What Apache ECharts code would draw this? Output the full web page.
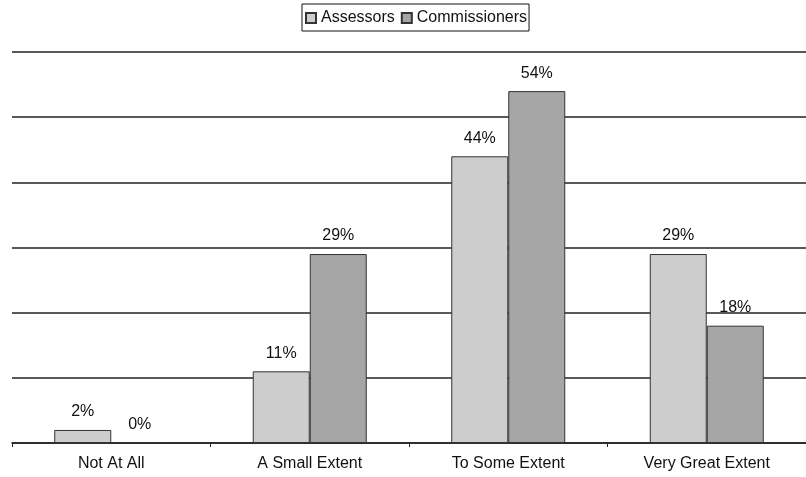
<!DOCTYPE html>
<html>
<head>
<meta charset="utf-8">
<script src="https://cdn.jsdelivr.net/npm/echarts@6/dist/echarts.min.js"></script>
<style>
html,body{margin:0;padding:0;background:#fff;}
#chart{width:806px;height:477px;}
</style>
</head>
<body>
<div id="chart"></div>
<script>
var categories = ["Not At All", "A Small Extent", "To Some Extent", "Very Great Extent"];
var assessors = [2, 11, 44, 29];
var commissioners = [0, 29, 54, 18];
var seriesNames = ["Assessors", "Commissioners"];

var chart = echarts.init(document.getElementById('chart'), null, {renderer: 'canvas'});
var labelStyle = {
  show: true,
  position: 'top',
  distance: 10,
  formatter: '{c}%',
  fontFamily: 'Liberation Sans, Arial, sans-serif',
  fontSize: 16,
  color: '#111'
};
chart.setOption({
  backgroundColor: '#ffffff',
  animation: false,
  legend: {
    top: 4,
    left: 302,
    data: seriesNames,
    icon: 'rect',
    itemWidth: 10,
    itemHeight: 10,
    itemGap: 6,
    padding: [6, 2, 5, 3],
    borderColor: '#111',
    borderWidth: 1,
    textStyle: {fontFamily: 'Liberation Sans, Arial, sans-serif', fontSize: 16, color: '#111'}
  },
  grid: {left: 12, right: -2, top: 52, bottom: 34, containLabel: false},
  xAxis: {
    type: 'category',
    data: categories,
    axisLine: {show: true, lineStyle: {color: '#222', width: 1.5}},
    axisTick: {show: true, length: 4, lineStyle: {color: '#222'}},
    axisLabel: {fontFamily: 'Liberation Sans, Arial, sans-serif', fontSize: 16, color: '#111', margin: 13}
  },
  yAxis: {
    type: 'value',
    min: 0,
    max: 60,
    interval: 10,
    axisLine: {show: false},
    axisTick: {show: false},
    axisLabel: {show: false},
    splitLine: {show: true, lineStyle: {color: '#222', width: 1.5}}
  },
  series: [
    {
      name: seriesNames[0],
      type: 'bar',
      data: assessors,
      barWidth: 57,
      barGap: '0%',
      itemStyle: {color: '#cdcdcd', borderColor: '#333', borderWidth: 1},
      label: labelStyle
    },
    {
      name: seriesNames[1],
      type: 'bar',
      data: commissioners,
      barWidth: 57,
      barGap: '0%',
      itemStyle: {color: '#a6a6a6', borderColor: '#333', borderWidth: 1},
      label: labelStyle
    }
  ]
});
</script>
</body>
</html>
